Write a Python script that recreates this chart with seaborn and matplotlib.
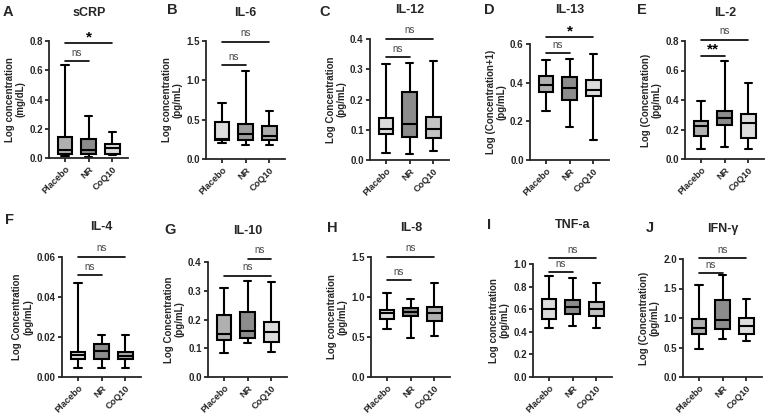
import matplotlib
matplotlib.use("Agg")
import matplotlib.pyplot as plt
import seaborn as sns
import pandas as pd

sns.set_style("ticks")
plt.rcParams['font.family'] = ['Liberation Sans', 'DejaVu Sans']

groups = ["Placebo", "NR", "CoQ10"]

# five-number summaries (min, q1, median, q3, max) per group
scrp_vals = [[0.012, 0.03, 0.053, 0.144, 0.635], [0.007, 0.03, 0.055, 0.133, 0.288], [0.018, 0.03, 0.07, 0.098, 0.18]]
il6_vals = [[0.2, 0.24, 0.26, 0.476, 0.708], [0.177, 0.236, 0.32, 0.447, 1.117], [0.177, 0.236, 0.295, 0.42, 0.615]]
il12_vals = [[0.024, 0.086, 0.102, 0.138, 0.316], [0.019, 0.077, 0.119, 0.226, 0.322], [0.029, 0.072, 0.101, 0.141, 0.328]]
il13_vals = [[0.256, 0.354, 0.389, 0.436, 0.517], [0.173, 0.311, 0.37, 0.429, 0.524], [0.104, 0.329, 0.36, 0.415, 0.546]]
il2_vals = [[0.068, 0.155, 0.223, 0.259, 0.39], [0.079, 0.228, 0.275, 0.327, 0.667], [0.07, 0.144, 0.246, 0.302, 0.518]]
il4_vals = [[0.0045, 0.0091, 0.0112, 0.0127, 0.047], [0.0045, 0.0091, 0.0129, 0.0165, 0.021], [0.0045, 0.0088, 0.0107, 0.0124, 0.021]]
il10_vals = [[0.085, 0.129, 0.149, 0.217, 0.309], [0.117, 0.135, 0.16, 0.226, 0.334], [0.088, 0.123, 0.155, 0.191, 0.331]]
il8_vals = [[0.595, 0.723, 0.797, 0.835, 1.054], [0.483, 0.764, 0.818, 0.868, 0.971], [0.512, 0.702, 0.806, 0.876, 1.178]]
tnf_vals = [[0.432, 0.513, 0.606, 0.687, 0.896], [0.449, 0.557, 0.623, 0.681, 0.872], [0.432, 0.536, 0.6, 0.664, 0.829]]
ifn_vals = [[0.478, 0.722, 0.833, 0.983, 1.567], [0.65, 0.811, 0.967, 1.306, 1.722], [0.617, 0.733, 0.856, 0.994, 1.328]]

titles = ["sCRP", "IL-6", "IL-12", "IL-13", "IL-2", "IL-4", "IL-10", "IL-8", "TNF-a", "IFN-γ"]
letters = ["A", "B", "C", "D", "E", "F", "G", "H", "I", "J"]
ylabels = ["Log concentration\n(mg/dL)", "Log concentration\n(pg/mL)", "Log Concentration\n(pg/mL)",
           "Log (Concentration+1)\n(pg/mL)", "Log (Concentration)\n(pg/mL)", "Log Concentration\n(pg/mL)",
           "Log Concentration\n(pg/mL)", "Log concentration\n(pg/mL)", "Log concentration\n(pg/mL)",
           "Log (Concentration)\n(pg/mL)"]
yticks = [[0, 0.2, 0.4, 0.6, 0.8], [0, 0.5, 1.0, 1.5], [0, 0.1, 0.2, 0.3, 0.4], [0, 0.2, 0.4, 0.6],
          [0, 0.2, 0.4, 0.6, 0.8], [0, 0.02, 0.04, 0.06], [0, 0.1, 0.2, 0.3, 0.4], [0, 0.5, 1.0, 1.5],
          [0, 0.2, 0.4, 0.6, 0.8, 1.0], [0, 0.5, 1.0, 1.5, 2.0]]
yfmt = ["%.1f", "%.1f", "%.1f", "%.1f", "%.1f", "%.2f", "%.1f", "%.1f", "%.1f", "%.1f"]

# significance annotations: (group_from, group_to, height, label)
sig_scrp = [(0, 1, 0.663, "ns"), (0, 2, 0.784, "*")]
sig_il6 = [(0, 1, 1.19, "ns"), (0, 2, 1.49, "ns")]
sig_il12 = [(0, 1, 0.339, "ns"), (0, 2, 0.40, "ns")]
sig_il13 = [(0, 1, 0.553, "ns"), (0, 2, 0.634, "*")]
sig_il2 = [(0, 1, 0.70, "**"), (0, 2, 0.81, "ns")]
sig_il4 = [(0, 1, 0.0509, "ns"), (0, 2, 0.060, "ns")]
sig_il10 = [(0, 2, 0.352, "ns"), (1, 2, 0.411, "ns")]
sig_il8 = [(0, 1, 1.21, "ns"), (0, 2, 1.50, "ns")]
sig_tnf = [(0, 1, 0.925, "ns"), (0, 2, 1.049, "ns")]
sig_ifn = [(0, 1, 1.761, "ns"), (0, 2, 2.011, "ns")]

L, M, D = "#dcdcdc", "#b0b0b0", "#8c8c8c"
palettes = [[M, D, L], [L, "#9c9c9c", "#ababab"], [L, D, "#c4c4c4"], [M, D, L], [M, D, L],
            [L, D, "#acacac"], [M, D, L], [L, D, "#b0b0b0"], [L, D, "#c2c2c2"], [M, D, L]]

all_vals = [scrp_vals, il6_vals, il12_vals, il13_vals, il2_vals, il4_vals, il10_vals, il8_vals, tnf_vals, ifn_vals]
all_sigs = [sig_scrp, sig_il6, sig_il12, sig_il13, sig_il2, sig_il4, sig_il10, sig_il8, sig_tnf, sig_ifn]

# layout in pixels: (left, top, bottom)
W, H = 768, 417
rects = [(49, 41, 158), (206, 41, 159), (370, 39, 160), (530, 44, 160), (685, 41, 159),
         (62, 257, 377), (208, 262, 377), (371, 257, 377), (533, 264, 377), (683, 259, 377)]
letter_pos = [(8, 12), (172, 10), (325, 12), (489, 10), (642, 10),
              (10, 220), (170, 230), (332, 228), (489, 225), (650, 228)]
title_y = [13, 13, 10, 10, 13, 227, 231, 228, 225, 229]
AXW = 79

fig = plt.figure(figsize=(W / 100, H / 100), dpi=100)

for i in range(10):
    left, top, bottom = rects[i]
    ax = fig.add_axes([left / W, 1 - bottom / H, AXW / W, (bottom - top) / H])
    vals = all_vals[i]
    df = pd.DataFrame({"group": [g for g, v in zip(groups, vals) for _ in v],
                       "value": [x for v in vals for x in v]})
    sns.boxplot(data=df, x="group", y="value", hue="group", order=groups, hue_order=groups,
                palette=palettes[i], whis=(0, 100), width=0.62, linewidth=1.5,
                linecolor="black", showfliers=False, legend=False, ax=ax,
                boxprops=dict(edgecolor="black"), medianprops=dict(color="black", linewidth=1.5),
                capprops=dict(color="black"), whiskerprops=dict(color="black"))
    ax.set_xlim(-0.68, 2.66)
    yt = yticks[i]
    ax.set_ylim(0, yt[-1])
    ax.set_yticks(yt)
    ax.set_yticklabels([yfmt[i] % t for t in yt], fontsize=7, fontweight="bold")
    ax.set_xticks(range(3))
    ax.set_xticklabels(groups, rotation=45, ha="right", rotation_mode="anchor",
                       fontsize=6.6, fontweight="bold")
    ax.set_xlabel("")
    ax.set_ylabel(ylabels[i], fontsize=7, fontweight="bold", labelpad=2.5, linespacing=1.1)
    sns.despine(ax=ax)
    for s in ["left", "bottom"]:
        ax.spines[s].set_linewidth(1.3)
    ax.tick_params(axis="both", width=1.3, length=3, pad=1.5)
    for g0, g1, h, lab in all_sigs[i]:
        ax.plot([g0, g1], [h, h], color="black", lw=1.2, clip_on=False)
        if lab == "ns":
            ax.text((g0 + g1) / 2, h + yt[-1] * 0.03, lab, ha="center", va="bottom",
                    fontsize=7, color="#444444", clip_on=False)
        else:
            ax.text((g0 + g1) / 2, h - yt[-1] * 0.01, lab, ha="center", va="bottom",
                    fontsize=11, fontweight="bold", color="black", clip_on=False)
    mid = left + (0.68 + 1) * AXW / 3.34
    fig.text(mid / W, 1 - title_y[i] / H, titles[i], ha="center", va="center",
             fontsize=9, fontweight="bold")
    lx, ly = letter_pos[i]
    fig.text(lx / W, 1 - ly / H, letters[i], ha="center", va="center",
             fontsize=10.5, fontweight="bold")

fig.savefig("out.png", dpi=100, facecolor="white")
